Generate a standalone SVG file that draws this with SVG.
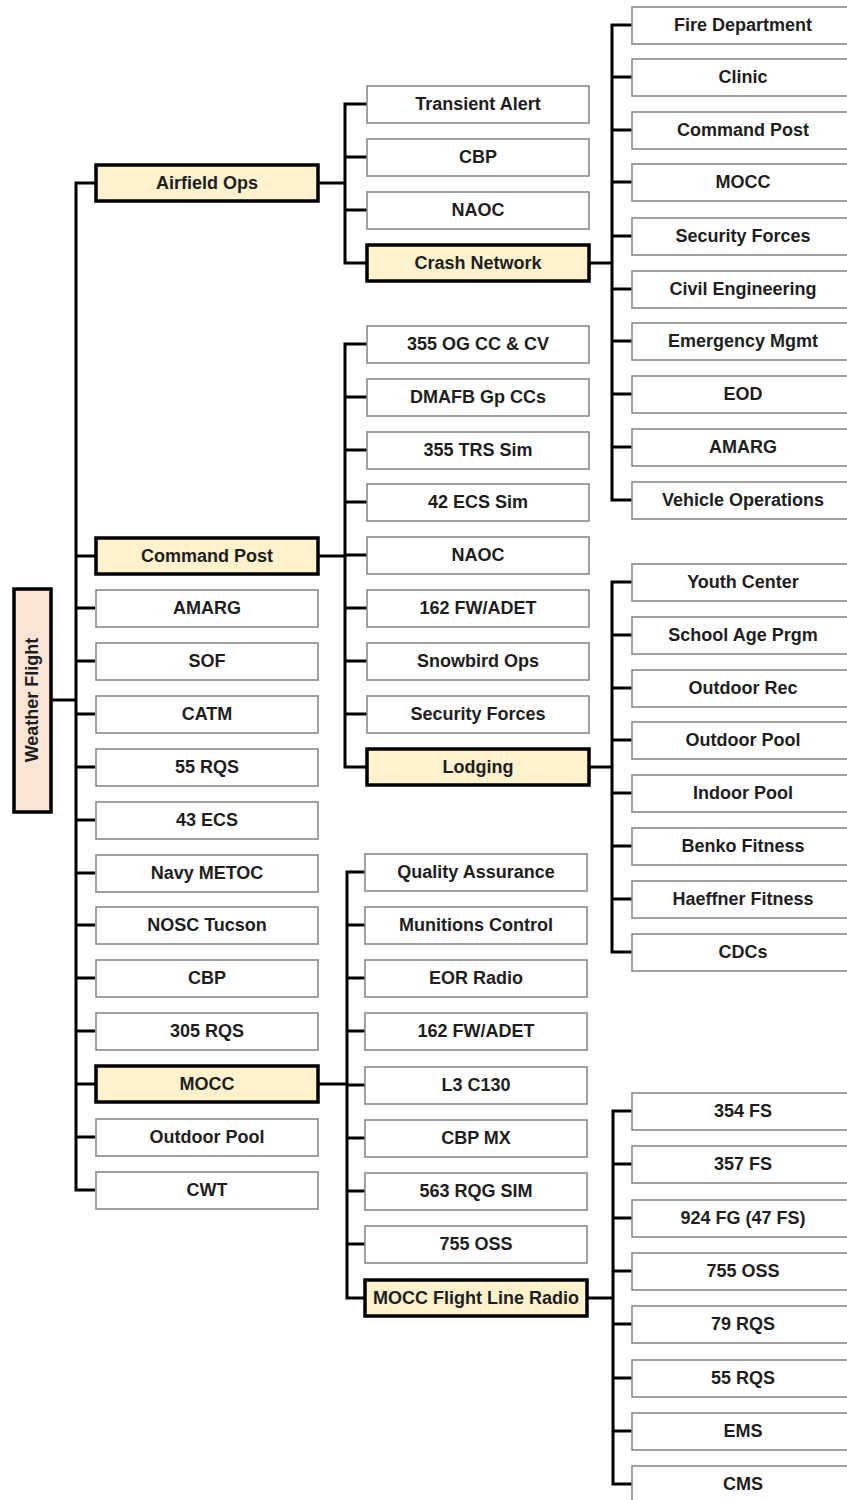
<svg xmlns="http://www.w3.org/2000/svg" width="847" height="1500" viewBox="0 0 847 1500">
<style>
.b{fill:#fff;stroke:#8a8a8a;stroke-width:1.6}
.h{fill:#fff2cc;stroke:#000;stroke-width:3.5}
.r{fill:#fbe5d6;stroke:#000;stroke-width:3.5}
.t{font-family:"Liberation Sans",Arial,sans-serif;font-weight:bold;font-size:18px;fill:#1e1e1e;text-anchor:middle}
.c{fill:none;stroke:#000;stroke-width:3;stroke-linejoin:miter;stroke-linecap:butt}
</style>
<rect width="847" height="1500" fill="#fff"/>
<g id="connectors" class="c">
<path d="M52 700H76M95 183H76V1190H95M76 556H95M76 608H95M76 661H95M76 714H95M76 767H95M76 820H95M76 873H95M76 925H95M76 978H95M76 1031H95M76 1084H95M76 1137H95"/>
<path d="M319 183H345M367 104H345V263H367M345 157H367M345 210H367"/>
<path d="M589 263H612M632 25H612V500H632M612 77H632M612 130H632M612 182H632M612 236H632M612 289H632M612 341H632M612 394H632M612 447H632"/>
<path d="M319 556H345M367 344H345V767H367M345 397H367M345 450H367M345 502H367M345 555H367M345 608H367M345 661H367M345 714H367"/>
<path d="M589 767H612M632 582H612V952H632M612 635H632M612 688H632M612 740H632M612 793H632M612 846H632M612 899H632"/>
<path d="M319 1084H347M365 872H347V1298H365M347 925H365M347 978H365M347 1031H365M347 1085H365M347 1138H365M347 1191H365M347 1244H365"/>
<path d="M588 1298H613M632 1111H613V1484H632M613 1164H632M613 1218H632M613 1271H632M613 1324H632M613 1378H632M613 1431H632"/>
</g>
<g id="weather-flight"><rect class="r" x="14" y="589" width="37" height="223"/><text class="t" transform="translate(38 700) rotate(-90)">Weather Flight</text></g>
<g id="airfield-ops"><rect class="h" x="96" y="165" width="222" height="36"/><text class="t" x="207" y="189">Airfield Ops</text></g>
<g id="command-post"><rect class="h" x="96" y="538" width="222" height="36"/><text class="t" x="207" y="562">Command Post</text></g>
<g id="amarg"><rect class="b" x="96" y="590" width="222" height="37"/><text class="t" x="207" y="614">AMARG</text></g>
<g id="sof"><rect class="b" x="96" y="643" width="222" height="37"/><text class="t" x="207" y="667">SOF</text></g>
<g id="catm"><rect class="b" x="96" y="696" width="222" height="37"/><text class="t" x="207" y="720">CATM</text></g>
<g id="rqs55"><rect class="b" x="96" y="749" width="222" height="37"/><text class="t" x="207" y="773">55 RQS</text></g>
<g id="ecs43"><rect class="b" x="96" y="802" width="222" height="37"/><text class="t" x="207" y="826">43 ECS</text></g>
<g id="navy-metoc"><rect class="b" x="96" y="855" width="222" height="37"/><text class="t" x="207" y="879">Navy METOC</text></g>
<g id="nosc-tucson"><rect class="b" x="96" y="907" width="222" height="37"/><text class="t" x="207" y="931">NOSC Tucson</text></g>
<g id="cbp-left"><rect class="b" x="96" y="960" width="222" height="37"/><text class="t" x="207" y="984">CBP</text></g>
<g id="rqs305"><rect class="b" x="96" y="1013" width="222" height="37"/><text class="t" x="207" y="1037">305 RQS</text></g>
<g id="mocc-left"><rect class="h" x="96" y="1066" width="222" height="36"/><text class="t" x="207" y="1090">MOCC</text></g>
<g id="outdoor-pool-left"><rect class="b" x="96" y="1119" width="222" height="37"/><text class="t" x="207" y="1143">Outdoor Pool</text></g>
<g id="cwt"><rect class="b" x="96" y="1172" width="222" height="37"/><text class="t" x="207" y="1196">CWT</text></g>

<g id="transient-alert"><rect class="b" x="367" y="86" width="222" height="37"/><text class="t" x="478" y="110">Transient Alert</text></g>
<g id="cbp-a"><rect class="b" x="367" y="139" width="222" height="37"/><text class="t" x="478" y="163">CBP</text></g>
<g id="naoc-a"><rect class="b" x="367" y="192" width="222" height="37"/><text class="t" x="478" y="216">NAOC</text></g>
<g id="crash-network"><rect class="h" x="367" y="245" width="222" height="36"/><text class="t" x="478" y="269">Crash Network</text></g>

<g id="fire-department"><rect class="b" x="632" y="7" width="223" height="37"/><text class="t" x="743" y="31">Fire Department</text></g>
<g id="clinic"><rect class="b" x="632" y="59" width="223" height="37"/><text class="t" x="743" y="83">Clinic</text></g>
<g id="command-post-r"><rect class="b" x="632" y="112" width="223" height="37"/><text class="t" x="743" y="136">Command Post</text></g>
<g id="mocc-r"><rect class="b" x="632" y="164" width="223" height="37"/><text class="t" x="743" y="188">MOCC</text></g>
<g id="security-forces-r"><rect class="b" x="632" y="218" width="223" height="37"/><text class="t" x="743" y="242">Security Forces</text></g>
<g id="civil-engineering"><rect class="b" x="632" y="271" width="223" height="37"/><text class="t" x="743" y="295">Civil Engineering</text></g>
<g id="emergency-mgmt"><rect class="b" x="632" y="323" width="223" height="37"/><text class="t" x="743" y="347">Emergency Mgmt</text></g>
<g id="eod"><rect class="b" x="632" y="376" width="223" height="37"/><text class="t" x="743" y="400">EOD</text></g>
<g id="amarg-r"><rect class="b" x="632" y="429" width="223" height="37"/><text class="t" x="743" y="453">AMARG</text></g>
<g id="vehicle-operations"><rect class="b" x="632" y="482" width="223" height="37"/><text class="t" x="743" y="506">Vehicle Operations</text></g>

<g id="og355"><rect class="b" x="367" y="326" width="222" height="37"/><text class="t" x="478" y="350">355 OG CC &amp; CV</text></g>
<g id="dmafb"><rect class="b" x="367" y="379" width="222" height="37"/><text class="t" x="478" y="403">DMAFB Gp CCs</text></g>
<g id="trs355"><rect class="b" x="367" y="432" width="222" height="37"/><text class="t" x="478" y="456">355 TRS Sim</text></g>
<g id="ecs42"><rect class="b" x="367" y="484" width="222" height="37"/><text class="t" x="478" y="508">42 ECS Sim</text></g>
<g id="naoc-b"><rect class="b" x="367" y="537" width="222" height="37"/><text class="t" x="478" y="561">NAOC</text></g>
<g id="fw162-b"><rect class="b" x="367" y="590" width="222" height="37"/><text class="t" x="478" y="614">162 FW/ADET</text></g>
<g id="snowbird"><rect class="b" x="367" y="643" width="222" height="37"/><text class="t" x="478" y="667">Snowbird Ops</text></g>
<g id="security-forces-b"><rect class="b" x="367" y="696" width="222" height="37"/><text class="t" x="478" y="720">Security Forces</text></g>
<g id="lodging"><rect class="h" x="367" y="749" width="222" height="36"/><text class="t" x="478" y="773">Lodging</text></g>

<g id="youth-center"><rect class="b" x="632" y="564" width="223" height="37"/><text class="t" x="743" y="588">Youth Center</text></g>
<g id="school-age"><rect class="b" x="632" y="617" width="223" height="37"/><text class="t" x="743" y="641">School Age Prgm</text></g>
<g id="outdoor-rec"><rect class="b" x="632" y="670" width="223" height="37"/><text class="t" x="743" y="694">Outdoor Rec</text></g>
<g id="outdoor-pool-r"><rect class="b" x="632" y="722" width="223" height="37"/><text class="t" x="743" y="746">Outdoor Pool</text></g>
<g id="indoor-pool"><rect class="b" x="632" y="775" width="223" height="37"/><text class="t" x="743" y="799">Indoor Pool</text></g>
<g id="benko"><rect class="b" x="632" y="828" width="223" height="37"/><text class="t" x="743" y="852">Benko Fitness</text></g>
<g id="haeffner"><rect class="b" x="632" y="881" width="223" height="37"/><text class="t" x="743" y="905">Haeffner Fitness</text></g>
<g id="cdcs"><rect class="b" x="632" y="934" width="223" height="37"/><text class="t" x="743" y="958">CDCs</text></g>

<g id="quality-assurance"><rect class="b" x="365" y="854" width="222" height="37"/><text class="t" x="476" y="878">Quality Assurance</text></g>
<g id="munitions-control"><rect class="b" x="365" y="907" width="222" height="37"/><text class="t" x="476" y="931">Munitions Control</text></g>
<g id="eor-radio"><rect class="b" x="365" y="960" width="222" height="37"/><text class="t" x="476" y="984">EOR Radio</text></g>
<g id="fw162-c"><rect class="b" x="365" y="1013" width="222" height="37"/><text class="t" x="476" y="1037">162 FW/ADET</text></g>
<g id="l3c130"><rect class="b" x="365" y="1067" width="222" height="37"/><text class="t" x="476" y="1091">L3 C130</text></g>
<g id="cbp-mx"><rect class="b" x="365" y="1120" width="222" height="37"/><text class="t" x="476" y="1144">CBP MX</text></g>
<g id="rqg563"><rect class="b" x="365" y="1173" width="222" height="37"/><text class="t" x="476" y="1197">563 RQG SIM</text></g>
<g id="oss755-c"><rect class="b" x="365" y="1226" width="222" height="37"/><text class="t" x="476" y="1250">755 OSS</text></g>
<g id="mocc-flr"><rect class="h" x="365" y="1280" width="222" height="36"/><text class="t" x="476" y="1304">MOCC Flight Line Radio</text></g>

<g id="fs354"><rect class="b" x="632" y="1093" width="223" height="37"/><text class="t" x="743" y="1117">354 FS</text></g>
<g id="fs357"><rect class="b" x="632" y="1146" width="223" height="37"/><text class="t" x="743" y="1170">357 FS</text></g>
<g id="fg924"><rect class="b" x="632" y="1200" width="223" height="37"/><text class="t" x="743" y="1224">924 FG (47 FS)</text></g>
<g id="oss755-r"><rect class="b" x="632" y="1253" width="223" height="37"/><text class="t" x="743" y="1277">755 OSS</text></g>
<g id="rqs79"><rect class="b" x="632" y="1306" width="223" height="37"/><text class="t" x="743" y="1330">79 RQS</text></g>
<g id="rqs55-r"><rect class="b" x="632" y="1360" width="223" height="37"/><text class="t" x="743" y="1384">55 RQS</text></g>
<g id="ems"><rect class="b" x="632" y="1413" width="223" height="37"/><text class="t" x="743" y="1437">EMS</text></g>
<g id="cms"><rect class="b" x="632" y="1466" width="223" height="37"/><text class="t" x="743" y="1490">CMS</text></g>
</svg>
